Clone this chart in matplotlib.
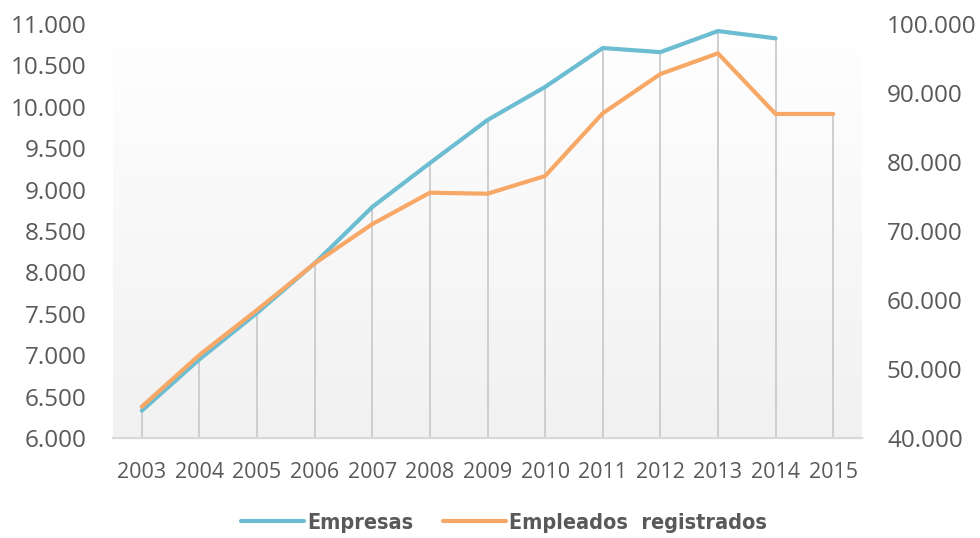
import matplotlib
matplotlib.use("Agg")
import matplotlib.pyplot as plt
import numpy as np
from matplotlib.ticker import FuncFormatter
from matplotlib.colors import LinearSegmentedColormap

years = ["2003", "2004", "2005", "2006", "2007", "2008", "2009", "2010",
         "2011", "2012", "2013", "2014", "2015"]
empresas = [6330, 6950, 7510, 8110, 8790, 9320, 9840, 10240, 10710, 10660, 10915, 10827, None]
empleados = [44540, 52030, 58550, 65300, 71000, 75550, 75400, 77970, 87060, 92750, 95750, 86960, 86960]
left_ticks = [6000, 6500, 7000, 7500, 8000, 8500, 9000, 9500, 10000, 10500, 11000]
right_ticks = [40000, 50000, 60000, 70000, 80000, 90000, 100000]

BLUE = "#6cbdd1"
ORANGE = "#f8a866"
TXT = "#595959"

plt.rcParams['font.family'] = ['Open Sans', 'DejaVu Sans']

fig = plt.figure(figsize=(9.8, 5.38), dpi=100)
ax = fig.add_axes([113/980, 1-438/538, (862-113)/980, (438-24)/538])
ax2 = ax.twinx()

x = np.arange(len(years))
L0, L1 = 6000, 11000
R0, R1 = 40000, 100000

# gradient background
grad = np.linspace(0, 1, 256).reshape(-1, 1)
cmap = LinearSegmentedColormap.from_list("bg", ["#f1f1f1", "#ffffff"])
ax.imshow(grad, aspect='auto', cmap=cmap, origin='lower',
          extent=[-0.5, len(years)-0.5, L0, L1], zorder=0)

# drop lines from the highest point to the axis
for i in range(len(years)):
    tops = []
    if empresas[i] is not None:
        tops.append(empresas[i])
    if empleados[i] is not None:
        tops.append(L0 + (empleados[i]-R0)/(R1-R0)*(L1-L0))
    ax.plot([x[i], x[i]], [L0, max(tops)], color="#cbcbcb", lw=1.3, zorder=1)

ex = [xi for xi, v in zip(x, empresas) if v is not None]
ev = [v for v in empresas if v is not None]
l1, = ax.plot(ex, ev, color=BLUE, lw=3, zorder=3, solid_capstyle='round', label="Empresas")
l2, = ax2.plot(x, empleados, color=ORANGE, lw=3, zorder=3, solid_capstyle='round',
               label="Empleados  registrados")

ax.set_xlim(-0.5, len(years)-0.5)
ax.set_ylim(L0, L1)
ax2.set_ylim(R0, R1)
ax.set_xticks(x)
ax.set_xticklabels(years)
ax.set_yticks(left_ticks)
ax2.set_yticks(right_ticks)
fmt = FuncFormatter(lambda v, p: f"{int(v):,}".replace(",", "."))
ax.yaxis.set_major_formatter(fmt)
ax2.yaxis.set_major_formatter(fmt)

for a in (ax, ax2):
    for s in a.spines.values():
        s.set_visible(False)
ax.spines['bottom'].set_visible(True)
ax.spines['bottom'].set_color("#d9d9d9")
ax.spines['bottom'].set_linewidth(1.6)
ax.spines['bottom'].set_zorder(2)

ax.tick_params(axis='y', length=0, labelsize=17.5, labelcolor=TXT, pad=19)
ax2.tick_params(axis='y', length=0, labelsize=17.5, labelcolor=TXT, pad=18)
ax.tick_params(axis='x', length=0, labelsize=15.5, labelcolor=TXT, pad=17)

leg = fig.legend(handles=[l1, l2], loc='center', bbox_to_anchor=(504/980, 1-523/538),
                 ncol=2, frameon=False, handlelength=2.9, handletextpad=0.15,
                 columnspacing=1.4,
                 prop=dict(family='DejaVu Sans', stretch='condensed', weight='bold', size=15.5))
for t in leg.get_texts():
    t.set_color(TXT)

fig.savefig("out.png", dpi=100)
